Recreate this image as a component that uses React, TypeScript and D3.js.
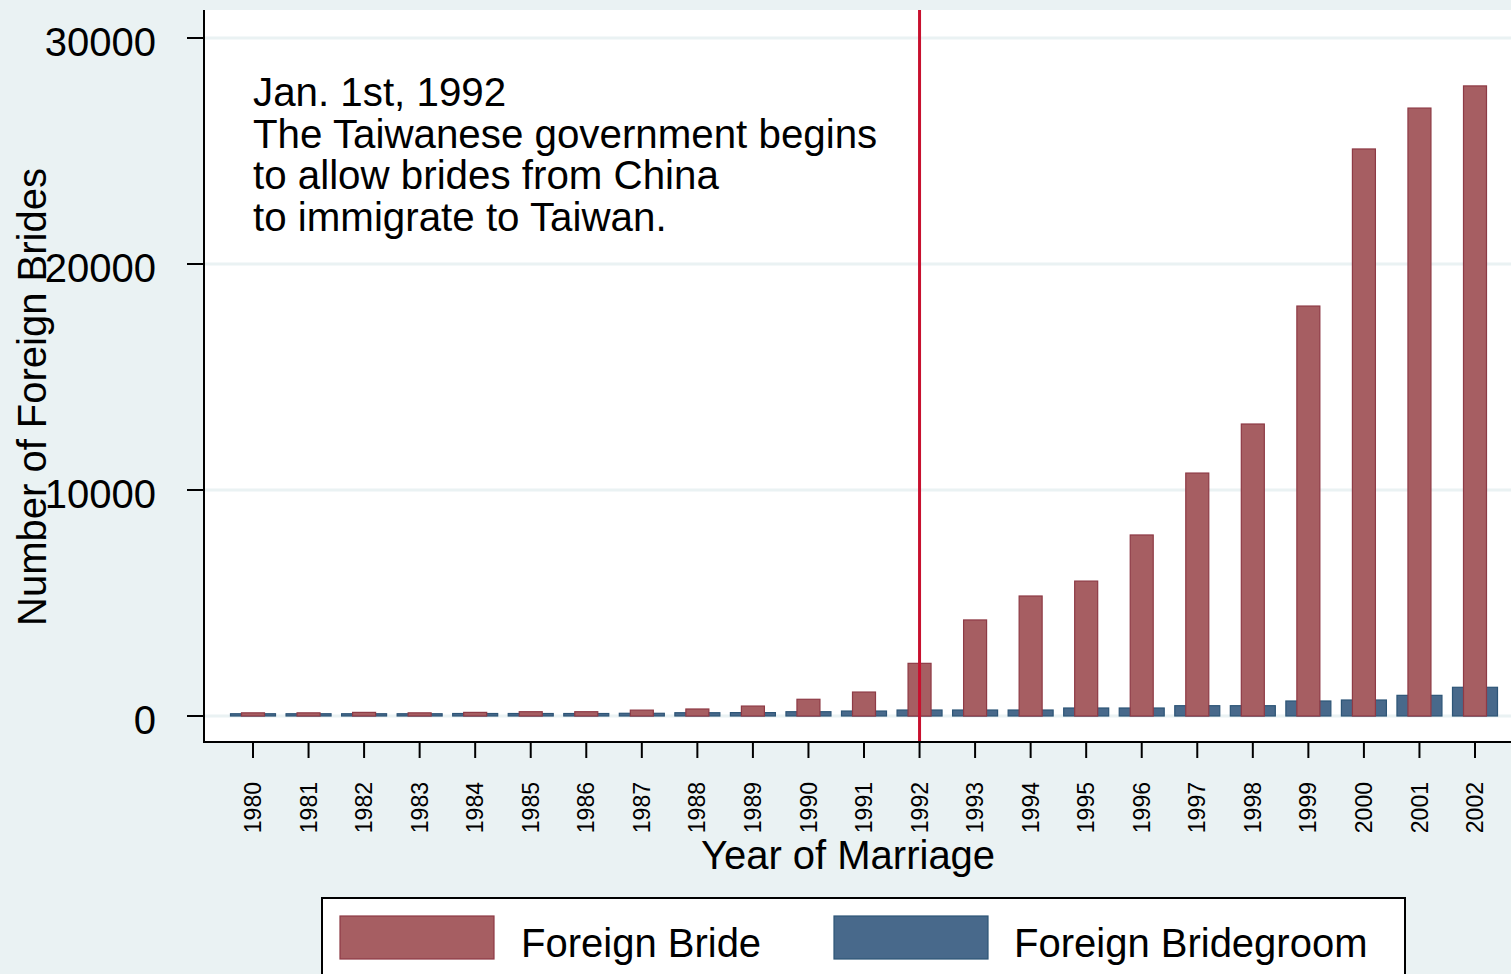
import React from "react";
import * as d3 from "d3";

const years = [1980,1981,1982,1983,1984,1985,1986,1987,1988,1989,1990,1991,1992,1993,1994,1995,1996,1997,1998,1999,2000,2001,2002];
const brides = [140,140,160,140,160,190,190,260,310,440,740,1060,2330,4250,5310,5970,8010,10750,12920,18140,25090,26900,27880];
const grooms = [100,100,100,100,110,110,110,120,145,150,190,220,265,265,265,354,354,456,456,664,708,914,1270];
const yTicks = [0,10000,20000,30000];
const annotation = ["Jan. 1st, 1992","The Taiwanese government begins","to allow brides from China","to immigrate to Taiwan."];
const legendItems = [{label:"Foreign Bride", color:"#A65E62", stroke:"#8E3A45"},{label:"Foreign Bridegroom", color:"#48698B", stroke:"#2D5577"}];

const W = 1511, H = 974;
const plotL = 204, plotT = 10, plotB = 742;
const font = "'Liberation Sans', Arial, sans-serif";

export default function App() {
  const x = d3.scaleLinear().domain([1980, 2002]).range([253, 1475]);
  const y = d3.scaleLinear().domain([0, 30000]).range([716, 38]);
  const bw = 23, gw = 45;
  return (
    <svg width={W} height={H} style={{position:"absolute", left:0, top:0}} fontFamily={font}>
      <rect x={0} y={0} width={W} height={H} fill="#EAF2F3" />
      <rect x={plotL} y={plotT} width={W - plotL} height={plotB - plotT} fill="#FFFFFF" />
      {yTicks.map(t => (
        <line key={"g"+t} x1={plotL} x2={W} y1={y(t)} y2={y(t)} stroke="#EAF2F3" strokeWidth={3} />
      ))}
      {years.map((yr, i) => (
        <rect key={"gr"+yr} x={x(yr) - gw/2} y={y(grooms[i])} width={gw} height={y(0) - y(grooms[i])}
          fill="#48698B" stroke="#2D5577" strokeWidth={1.2} />
      ))}
      {years.map((yr, i) => (
        <rect key={"br"+yr} x={x(yr) - bw/2} y={y(brides[i])} width={bw} height={y(0) - y(brides[i])}
          fill="#A65E62" stroke="#8E3A45" strokeWidth={1.2} />
      ))}
      <line x1={x(1992)} x2={x(1992)} y1={plotT} y2={plotB} stroke="#C8102E" strokeWidth={3} />
      <line x1={plotL} x2={plotL} y1={plotT} y2={plotB + 1} stroke="#000" strokeWidth={2} />
      <line x1={plotL - 1} x2={W} y1={plotB} y2={plotB} stroke="#000" strokeWidth={2} />
      {yTicks.map(t => (
        <g key={"yt"+t}>
          <line x1={187} x2={plotL} y1={y(t)} y2={y(t)} stroke="#000" strokeWidth={2} />
          <text x={156} y={y(t) + 4} dy="0.35em" textAnchor="end" fontSize={40} fill="#000">{t}</text>
        </g>
      ))}
      {years.map(yr => (
        <g key={"xt"+yr}>
          <line x1={x(yr)} x2={x(yr)} y1={plotB} y2={758} stroke="#000" strokeWidth={2} />
          <text transform={`translate(${x(yr)},782) rotate(-90)`} dy="0.35em" textAnchor="end" fontSize={23} fill="#000">{yr}</text>
        </g>
      ))}
      <text x={848} y={869} textAnchor="middle" fontSize={40} fill="#000">Year of Marriage</text>
      <text transform="translate(46,397) rotate(-90)" textAnchor="middle" fontSize={40} fill="#000">Number of Foreign Brides</text>
      {annotation.map((s, i) => (
        <text key={"a"+i} x={253} y={106 + i * 41.5} fontSize={40.3} fill="#000">{s}</text>
      ))}
      <rect x={322} y={898} width={1083} height={90} fill="#FFFFFF" stroke="#000" strokeWidth={2} />
      {legendItems.map((it, i) => (
        <g key={"l"+i}>
          <rect x={340 + i * 494} y={916} width={154} height={43} fill={it.color} stroke={it.stroke} strokeWidth={1.2} />
          <text x={521 + i * 493} y={957} fontSize={40} fill="#000">{it.label}</text>
        </g>
      ))}
    </svg>
  );
}
